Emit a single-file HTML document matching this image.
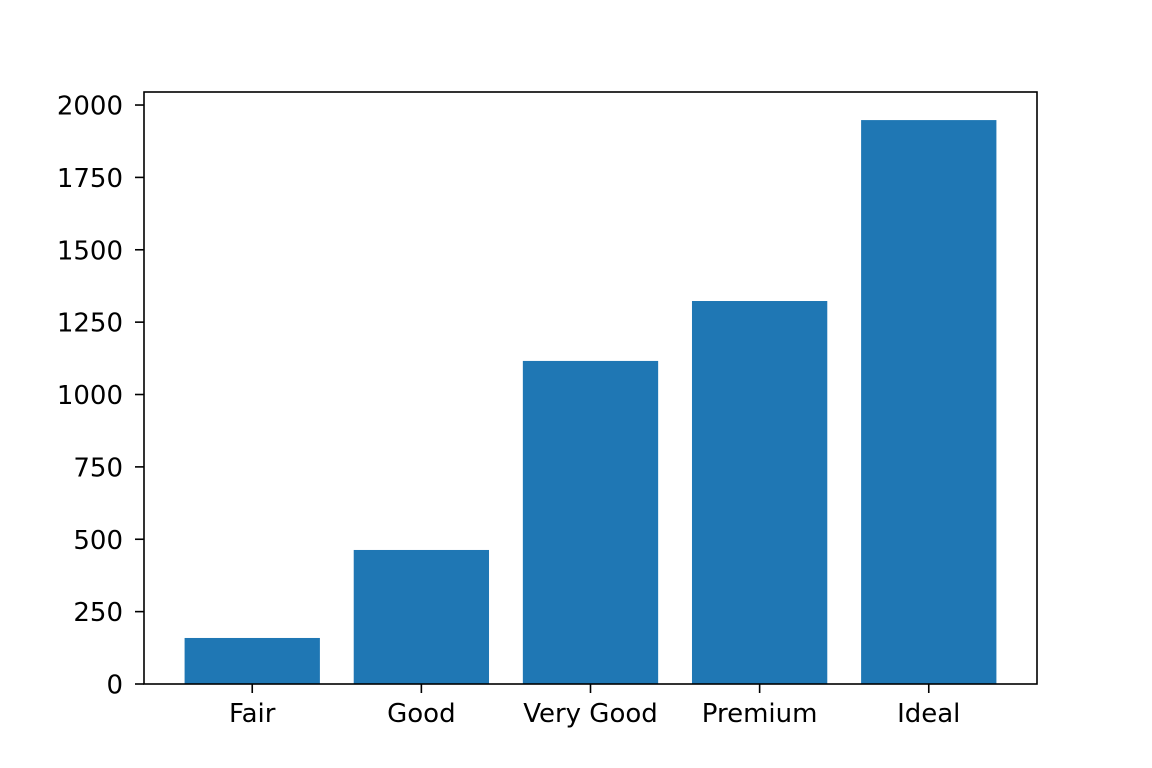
<!DOCTYPE html>
<html><head><meta charset="utf-8"><style>
html,body{margin:0;padding:0;background:#fff;}
svg{display:block;font-family:"DejaVu Sans","Liberation Sans",sans-serif;}
</style></head><body>
<svg id="chart" width="1152" height="768"></svg>
<script>
const categories = ["Fair","Good","Very Good","Premium","Ideal"];
const values = [159, 463, 1116, 1323, 1948];
const yTicks = [0,250,500,750,1000,1250,1500,1750,2000];

const L=144,R=1037,T=92,B=684;
const yMax=2045, xMin=-0.64, xMax=4.64;
const ns="http://www.w3.org/2000/svg";
const svg=document.getElementById('chart');
function y(v){return B-(v/yMax)*(B-T);}
function x(i){return L+(i-xMin)/(xMax-xMin)*(R-L);}
function el(t,a){const e=document.createElementNS(ns,t);for(const k in a)e.setAttribute(k,a[k]);svg.appendChild(e);return e;}
const bw=(x(0.8)-x(0));
values.forEach((v,i)=>{
  const r=el('rect',{x:x(i)-bw/2,y:y(v),width:bw,height:B-y(v),fill:'#1f77b4'});
  
  
});
const frame=el('rect',{x:L,y:T,width:R-L,height:B-T,fill:'none',stroke:'#000','stroke-width':1.6});


yTicks.forEach(v=>{
  const tk=el('line',{x1:L-9,x2:L,y1:y(v),y2:y(v),stroke:'#000','stroke-width':1.6});
  
  
  const t=el('text',{x:L-21,y:y(v)+9.5,'text-anchor':'end','font-size':'26px',fill:'#000'});
  t.textContent=v;
  
  
});
categories.forEach((c,i)=>{
  const tk=el('line',{x1:x(i),x2:x(i),y1:B,y2:B+9,stroke:'#000','stroke-width':1.6});
  
  
  const t=el('text',{x:x(i),y:B+38,'text-anchor':'middle','font-size':'26px',fill:'#000'});
  t.textContent=c;
  
  
});
</script>
</body></html>
